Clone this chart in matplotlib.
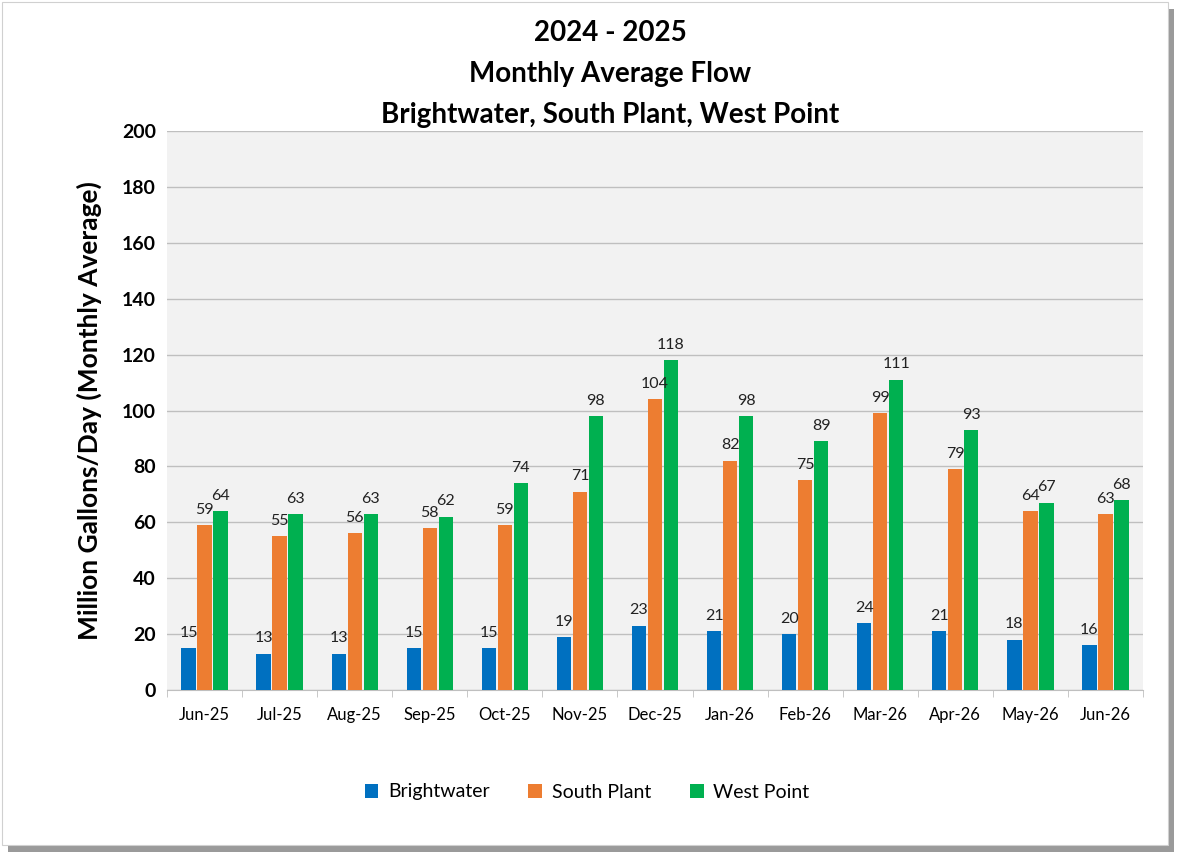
import matplotlib
matplotlib.use("Agg")
import matplotlib.pyplot as plt
from matplotlib.patches import Rectangle
import numpy as np

plt.rcParams['font.family'] = ['Lato', 'DejaVu Sans']

months = ["Jun-25","Jul-25","Aug-25","Sep-25","Oct-25","Nov-25","Dec-25","Jan-26","Feb-26","Mar-26","Apr-26","May-26","Jun-26"]
brightwater = [15,13,13,15,15,19,23,21,20,24,21,18,16]
south_plant = [59,55,56,58,59,71,104,82,75,99,79,64,63]
west_point = [64,63,63,62,74,98,118,98,89,111,93,67,68]

W, H = 1180, 859
fig = plt.figure(figsize=(W/100, H/100), dpi=100)
fig.patch.set_facecolor('white')
# shadow + frame
fig.patches.append(Rectangle((8/W, 1-(852/H)), 1166/W, 843/H, transform=fig.transFigure, facecolor='#9a9a9a', edgecolor='none', zorder=-2))
fig.patches.append(Rectangle((2/W, 1-(845/H)), 1166/W, 843/H, transform=fig.transFigure, facecolor='white', edgecolor='#d0d0d0', lw=0.8, zorder=-1))

ax = fig.add_axes([167/W, 1-690/H, (1143-167)/W, (690-131)/H])
ax.set_zorder(2)
ax.set_facecolor('#f2f2f2')
x = np.arange(len(months))
bw = 0.19
off = 0.213
cols = ['#0070C0', '#ED7D31', '#00B050']
names = ['Brightwater', 'South Plant', 'West Point']
for i, (vals, c, n) in enumerate(zip([brightwater, south_plant, west_point], cols, names)):
    ax.bar(x + (i-1)*off, vals, bw, color=c, label=n, zorder=3)
    for xi, v in zip(x + (i-1)*off, vals):
        ax.text(xi, v + 3, str(v), ha='center', va='bottom', fontsize=11.5, color='#222222', zorder=4)

ax.set_ylim(0, 200)
ax.set_xlim(-0.5, len(months)-0.5)
ax.set_yticks(range(0, 201, 20))
ax.tick_params(axis='y', labelsize=14, length=0, pad=8)
for lab in ax.get_yticklabels():
    lab.set_fontweight('bold')
ax.set_xticks(x)
ax.set_xticklabels(months, fontsize=12)
ax.set_xticks(np.arange(-0.5, len(months)), minor=True)
ax.tick_params(axis='x', which='minor', length=5, color='#bfbfbf')
ax.tick_params(axis='x', which='major', length=0, pad=12)
ax.grid(axis='y', color='#bfbfbf', lw=1, zorder=0)
for s in ['top', 'right', 'left']:
    ax.spines[s].set_visible(False)
ax.spines['bottom'].set_color('#bfbfbf')
ax.set_ylabel('Million Gallons/Day (Monthly Average)', fontsize=19, fontweight='bold', labelpad=14)

fig.text(610/W, 1-33/H, '2024 - 2025', ha='center', va='center', fontsize=20, fontweight='bold')
fig.text(610/W, 1-74/H, 'Monthly Average Flow', ha='center', va='center', fontsize=20, fontweight='bold')
fig.text(610/W, 1-115/H, 'Brightwater, South Plant, West Point', ha='center', va='center', fontsize=20, fontweight='bold')

fig.legend(loc='center', bbox_to_anchor=(587/W, 1-792/H), ncol=3, frameon=False, fontsize=14,
           handlelength=0.7, handleheight=0.7, columnspacing=2.0, handletextpad=0.5)

fig.savefig('out.png', dpi=100)
